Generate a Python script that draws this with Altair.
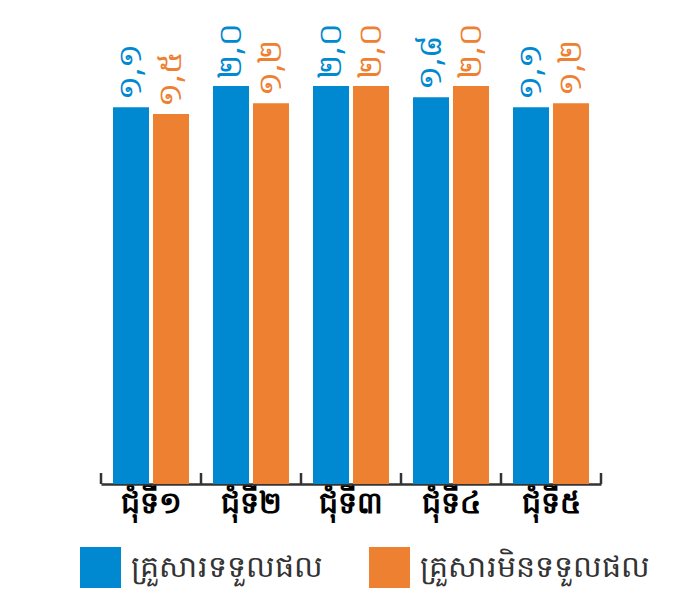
import altair as alt
import pandas as pd

categories = ["ជុំទី១", "ជុំទី២", "ជុំទី៣", "ជុំទី៤", "ជុំទី៥"]
series = ["គ្រួសារទទួលផល", "គ្រួសារមិនទទួលផល"]
colors = ["#0089D0", "#EE8032"]

# bar heights (tallest bar = 100)
blue_values = [94.7, 100.0, 100.0, 97.2, 94.7]
orange_values = [93.0, 95.7, 100.0, 100.0, 95.7]
# value labels as printed above the bars
blue_labels = ["១,១", "២,០", "២,០", "១,៨", "១,១"]
orange_labels = ["១,៥", "១,២", "២,០", "២,០", "១,២"]

rows = []
for i, c in enumerate(categories):
    rows.append({"cat": c, "series": series[0], "v": blue_values[i], "lab": blue_labels[i]})
    rows.append({"cat": c, "series": series[1], "v": orange_values[i], "lab": orange_labels[i]})
df = pd.DataFrame(rows)

x_enc = alt.X("cat:N", sort=categories, scale=alt.Scale(paddingInner=0, paddingOuter=0),
              axis=alt.Axis(title=None, labelAngle=0, ticks=False, labelFontSize=30,
                            labelFontWeight="bold", labelColor="#000000", labelPadding=4,
                            domainColor="#333333", domainWidth=2.5, labelFont="Noto Sans"))
xoff = alt.XOffset("series:N", sort=series,
                   scale=alt.Scale(paddingInner=0.1, paddingOuter=0.3))
y_enc = alt.Y("v:Q", scale=alt.Scale(domain=[0, 116.6], nice=False), axis=None)
color_enc = alt.Color("series:N", sort=series, scale=alt.Scale(domain=series, range=colors),
                      legend=alt.Legend(title=None, orient="none", legendX=-21, legendY=527,
                                        direction="horizontal", symbolType="square",
                                        symbolSize=1681, symbolStrokeWidth=0, symbolOpacity=1,
                                        labelFontSize=30, labelColor="#333333", labelOffset=10,
                                        columnPadding=46, labelFont="Noto Sans", labelLimit=400))

bars = alt.Chart(df).mark_bar(opacity=1).encode(x=x_enc, xOffset=xoff, y=y_enc, color=color_enc)

labels = alt.Chart(df).mark_text(angle=270, align="left", baseline="middle", dx=7,
                                 fontSize=32, font="Noto Sans").encode(
    x=alt.X("cat:N", sort=categories), xOffset=alt.XOffset("series:N", sort=series),
    y="v:Q", text="lab:N",
    color=alt.Color("series:N", sort=series, legend=None))

tick_df = pd.DataFrame({"cat": categories})
ticks0 = alt.Chart(tick_df).mark_rule(color="#333333", strokeWidth=2.5).encode(
    x=alt.X("cat:N", sort=categories, bandPosition=0), y=alt.value(453), y2=alt.value(464))
ticks1 = alt.Chart(tick_df.tail(1)).mark_rule(color="#333333", strokeWidth=2.5).encode(
    x=alt.X("cat:N", sort=categories, bandPosition=1), y=alt.value(453), y2=alt.value(464))

chart = alt.layer(bars, labels, ticks0, ticks1).properties(
    width=500, height=464,
    autosize=alt.AutoSizeParams(type="none"),
    padding={"left": 93, "top": 12, "right": 70, "bottom": 112},
).configure_view(stroke=None)

chart.save("out.html", embed_options={"renderer": "svg", "actions": False})
